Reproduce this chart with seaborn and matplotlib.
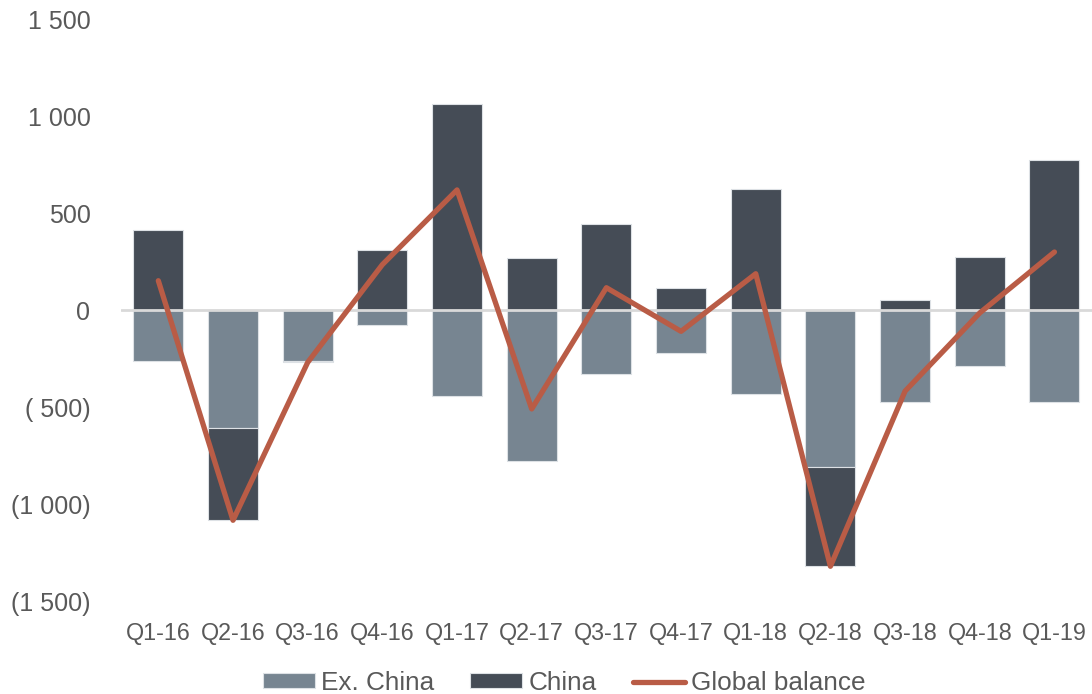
import numpy as np
import pandas as pd
import matplotlib
matplotlib.use("Agg")
import matplotlib.pyplot as plt
import seaborn as sns

# quarterly balance
quarters = ["Q1-16", "Q2-16", "Q3-16", "Q4-16", "Q1-17", "Q2-17", "Q3-17",
            "Q4-17", "Q1-18", "Q2-18", "Q3-18", "Q4-18", "Q1-19"]
ex_china = [-261, -610, -261, -77, -441, -778, -328, -222, -435, -809, -472, -290, -474]
china = [412, -474, -9, 311, 1060, 268, 443, 112, 622, -512, 54, 275, 773]
global_balance = [151, -1084, -270, 234, 619, -510, 115, -110, 187, -1321, -418, -15, 299]

y_ticks = [-1500, -1000, -500, 0, 500, 1000, 1500]
y_tick_labels = ["(1 500)", "(1 000)", "( 500)", "0", "500", "1 000", "1 500"]
legend_order = ["Ex. China", "China", "Global balance"]

df = pd.DataFrame({"quarter": quarters, "ex_china": ex_china,
                   "china": china, "global": global_balance})
# china stacks on ex-china when both are negative
china_bottom = np.where(df["china"] < 0, df["ex_china"], 0)

sns.set_style("white")
plt.rcParams["font.family"] = ["Liberation Sans", "DejaVu Sans"]
text_grey = "#595959"

fig = plt.figure(figsize=(10.92, 6.94), dpi=100)
ax = fig.add_axes([0.1108, 0.134, 0.889, 0.8386])

sns.barplot(data=df, x="quarter", y="ex_china", color="#778591", width=0.67,
            saturation=1, edgecolor="#dde1e5", linewidth=0.8,
            label="Ex. China", ax=ax, zorder=2)
sns.barplot(data=df, x="quarter", y="china", color="#454c56", width=0.67,
            saturation=1, edgecolor="#dde1e5", linewidth=0.8,
            bottom=china_bottom, label="China", ax=ax, zorder=2)
ax.axhline(0, color="#d9d9d9", lw=2, zorder=3)
sns.lineplot(data=df, x="quarter", y="global", color="#b95c46", lw=3.8,
             sort=False, solid_capstyle="round", label="Global balance",
             ax=ax, zorder=4)

ax.set_xlim(-0.5, len(quarters) - 0.5)
ax.set_ylim(-1500, 1500)
ax.set_yticks(y_ticks)
ax.set_yticklabels(y_tick_labels)
ax.set_xlabel("")
ax.set_ylabel("")
ax.tick_params(axis="y", length=0, pad=22, labelsize=18, labelcolor=text_grey)
ax.tick_params(axis="x", length=0, pad=15, labelsize=16.8, labelcolor=text_grey)
sns.despine(ax=ax, left=True, bottom=True)

handles, labels = ax.get_legend_handles_labels()
by_label = dict(zip(labels, handles))
leg = fig.legend([by_label[l] for l in legend_order], legend_order,
                 loc="center", bbox_to_anchor=(0.5165, 0.016),
                 ncol=3, frameon=False, fontsize=18.8, handlelength=2.0,
                 handleheight=0.5, handletextpad=0.23, columnspacing=1.38,
                 labelcolor=text_grey)
ax.get_legend().remove()

fig.savefig("out.png", dpi=100)
